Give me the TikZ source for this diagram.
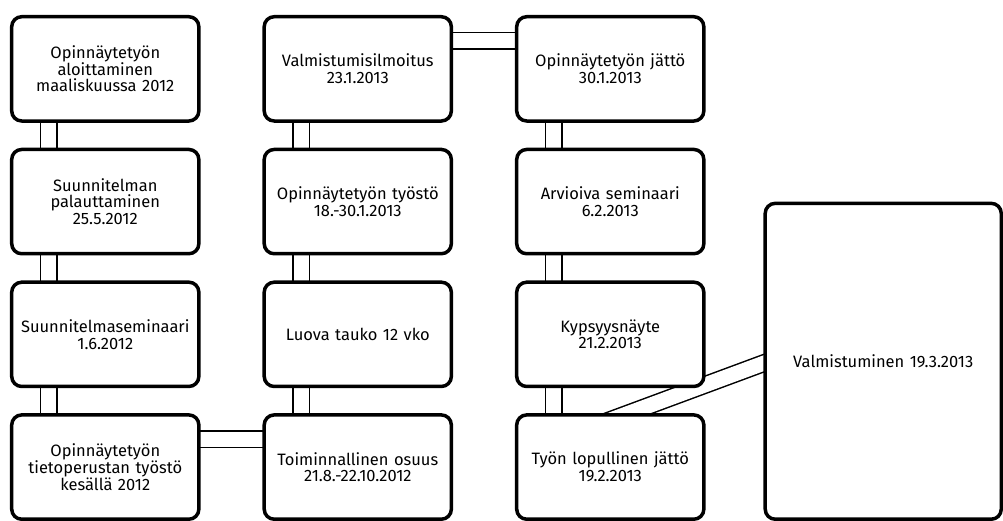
\documentclass[tikz,border=0pt]{standalone}
\usepackage{fontspec}
\setmainfont{Fira Sans}
\usetikzlibrary{backgrounds,calc,positioning}

\begin{document}
\begin{tikzpicture}[node distance=25pt and 62pt, font=\fontsize{16.5}{16.8}\selectfont,
		item/.style={draw,line width=3.5pt,rounded corners=10pt,fill=white,inner sep=2pt,
			minimum width=187.5pt,minimum height=104.5pt,text width=182pt,align=center},
		link/.style={double,double distance=15pt,line width=1.5pt}]
		% first column
		\node[item]                (alku)  {Opinnäytetyön\\aloittaminen\\maaliskuussa 2012};
		\node[item,below=of alku]  (suunn) {Suunnitelman\\palauttaminen\\25.5.2012};
		\node[item,below=of suunn] (sem)   {Suunnitelmaseminaari\\1.6.2012};
		\node[item,below=of sem]   (tieto) {Opinnäytetyön\\tietoperustan työstö\\kesällä 2012};

		% second column
		\node[item,right=of tieto]  (toim)   {Toiminnallinen osuus\\21.8.-22.10.2012};
		\node[item,above=of toim]   (tauko)  {Luova tauko 12 vko};
		\node[item,above=of tauko]  (tyosto) {Opinnäytetyön työstö\\18.-30.1.2013};
		\node[item,above=of tyosto] (ilmo)   {Valmistumisilmoitus\\23.1.2013};

		% third column
		\node[item,right=of ilmo]  (jatto) {Opinnäytetyön jättö\\30.1.2013};
		\node[item,below=of jatto] (arv)   {Arvioiva seminaari\\6.2.2013};
		\node[item,below=of arv]   (kyps)  {Kypsyysnäyte\\21.2.2013};
		\node[item,below=of kyps]  (loppu) {Työn lopullinen jättö\\19.2.2013};

		\node[item,anchor=north west,minimum width=236.5pt,minimum height=316.5pt,text width=230pt]
			(valm) at ($(arv.north east)+(58pt,-54pt)$) {Valmistuminen 19.3.2013};

		\coordinate (d1) at ($(loppu.north west)+(114pt,0)$);
		\coordinate (d2) at ($(valm.north west)+(0,-162pt)$);

		% connectors
		\begin{scope}[on background layer]
		\draw[link] ($(alku.south west)+(39pt,5pt)$)  -- ($(suunn.north west)+(39pt,-5pt)$);
		\draw[link] ($(suunn.south west)+(39pt,5pt)$) -- ($(sem.north west)+(39pt,-5pt)$);
		\draw[link] ($(sem.south west)+(39pt,5pt)$)   -- ($(tieto.north west)+(39pt,-5pt)$);
		\draw[link] ($(tieto.north east)+(-5pt,-26pt)$) -- ($(toim.north west)+(5pt,-26pt)$);
		\draw[link] ($(toim.north west)+(39pt,-5pt)$)   -- ($(tauko.south west)+(39pt,5pt)$);
		\draw[link] ($(tauko.north west)+(39pt,-5pt)$)  -- ($(tyosto.south west)+(39pt,5pt)$);
		\draw[link] ($(tyosto.north west)+(39pt,-5pt)$) -- ($(ilmo.south west)+(39pt,5pt)$);
		\draw[link] ($(ilmo.north east)+(-5pt,-26pt)$)  -- ($(jatto.north west)+(5pt,-26pt)$);
		\draw[link] ($(jatto.south west)+(39pt,5pt)$) -- ($(arv.north west)+(39pt,-5pt)$);
		\draw[link] ($(arv.south west)+(39pt,5pt)$)   -- ($(kyps.north west)+(39pt,-5pt)$);
		\draw[link] ($(kyps.south west)+(39pt,5pt)$)  -- ($(loppu.north west)+(39pt,-5pt)$);
		\draw[link] ($(d1)!-0.3!(d2)$) -- ($(d2)!-0.3!(d1)$);
		\end{scope}

		\useasboundingbox ($(alku.north west)+(-10pt,15pt)$) rectangle ++(1003pt,-519pt);
\end{tikzpicture}
\end{document}
